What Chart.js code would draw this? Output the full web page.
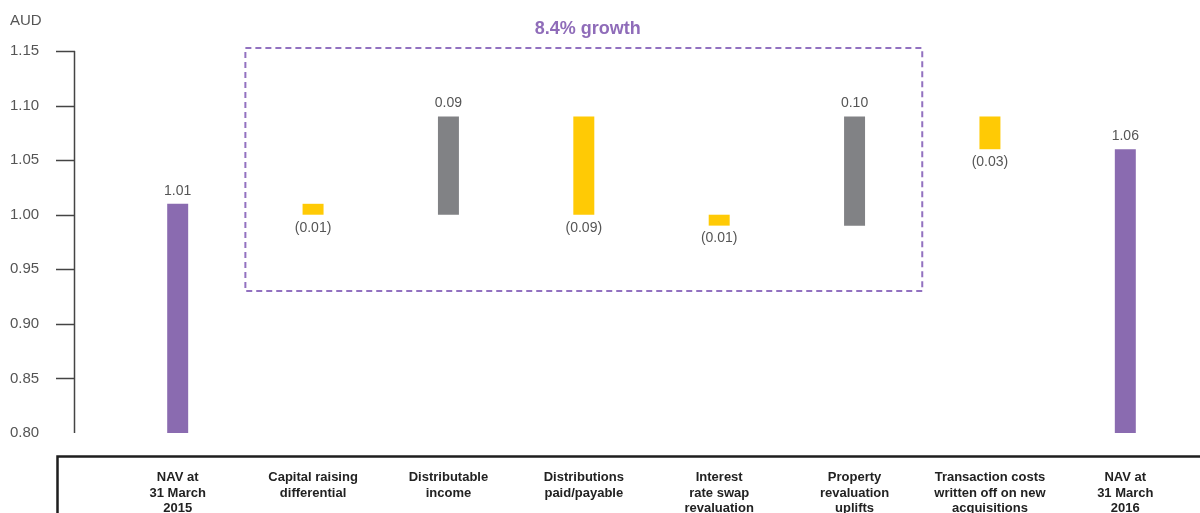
<!DOCTYPE html>
<html>
<head>
<meta charset="utf-8">
<script src="https://cdn.jsdelivr.net/npm/chart.js"></script>
<style>
  html, body { margin: 0; padding: 0; background: #fff; }
  #wrap { width: 1200px; height: 513px; position: relative; }
</style>
</head>
<body>
<div id="wrap"><canvas id="nav-chart"></canvas></div>
<script>
// categories and values
const categories = [
  ['NAV at', '31 March', '2015'],
  ['Capital raising', 'differential'],
  ['Distributable', 'income'],
  ['Distributions', 'paid/payable'],
  ['Interest', 'rate swap', 'revaluation'],
  ['Property', 'revaluation', 'uplifts'],
  ['Transaction costs', 'written off on new', 'acquisitions'],
  ['NAV at', '31 March', '2016']
];
const barStart = [0.80, 1.00, 1.00, 1.00, 0.99, 0.99, 1.06, 0.80];
const barEnd   = [1.01, 1.01, 1.09, 1.09, 1.00, 1.09, 1.09, 1.06];
const barKind  = ['total', 'decrease', 'increase', 'decrease', 'decrease', 'increase', 'decrease', 'total'];
const valueLabels = ['1.01', '(0.01)', '0.09', '(0.09)', '(0.01)', '0.10', '(0.03)', '1.06'];
const yTicks = [0.80, 0.85, 0.90, 0.95, 1.00, 1.05, 1.10, 1.15];
const unitLabel = 'AUD';
const growthLabel = '8.4% growth';

const colors = { total: '#8a6bb0', increase: '#818285', decrease: '#ffca05' };
const FONT = '"Liberation Sans", Arial, sans-serif';

// axis, label box, dashed growth box and value labels
const decorations = {
  id: 'decorations',
  afterDraw(chart) {
    const { ctx, chartArea, scales: { x, y } } = chart;
    ctx.save();

    // y axis line + ticks (drawn left of the bars)
    ctx.strokeStyle = '#444';
    ctx.lineWidth = 1.5;
    ctx.beginPath();
    ctx.moveTo(74.5, y.getPixelForValue(1.15));
    ctx.lineTo(74.5, y.getPixelForValue(0.80));
    yTicks.slice(1).forEach(t => {
      const py = Math.round(y.getPixelForValue(t)) + 0.5;
      ctx.moveTo(56, py);
      ctx.lineTo(75, py);
    });
    ctx.stroke();

    ctx.fillStyle = '#555';
    ctx.font = '15px ' + FONT;
    ctx.textAlign = 'left';
    ctx.textBaseline = 'middle';
    ctx.fillText(unitLabel, 10, 21);

    // frame round the category labels
    ctx.strokeStyle = '#1e1e1e';
    ctx.lineWidth = 2.5;
    ctx.beginPath();
    ctx.moveTo(57.5, 513);
    ctx.lineTo(57.5, 456.5);
    ctx.lineTo(1200, 456.5);
    ctx.stroke();

    // dashed growth box
    const bx0 = x.getPixelForValue(0.5), bx1 = x.getPixelForValue(5.5);
    const by0 = chartArea.top - 3, by1 = y.getPixelForValue(0.93);
    ctx.strokeStyle = '#9271c0';
    ctx.lineWidth = 2;
    ctx.setLineDash([6, 4]);
    ctx.strokeRect(bx0, by0, bx1 - bx0, by1 - by0);
    ctx.setLineDash([]);

    ctx.fillStyle = '#8f6cb9';
    ctx.font = 'bold 18px ' + FONT;
    ctx.textAlign = 'center';
    ctx.fillText(growthLabel, (bx0 + bx1) / 2 + 4, 29);

    // value labels
    ctx.fillStyle = '#555';
    ctx.font = '14px ' + FONT;
    const meta = chart.getDatasetMeta(0);
    meta.data.forEach((bar, i) => {
      const top = y.getPixelForValue(barEnd[i]);
      const bottom = y.getPixelForValue(barStart[i]);
      const ty = barKind[i] === 'decrease' ? bottom + 13 : top - 13;
      ctx.fillText(valueLabels[i], bar.x, ty);
    });

    ctx.restore();
  }
};

new Chart(document.getElementById('nav-chart'), {
  type: 'bar',
  data: {
    labels: categories,
    datasets: [{
      data: barStart.map((s, i) => [s, barEnd[i]]),
      backgroundColor: barKind.map(k => colors[k]),
      borderWidth: 0,
      barPercentage: 0.155,
      categoryPercentage: 1
    }]
  },
  plugins: [decorations],
  options: {
    responsive: true,
    maintainAspectRatio: false,
    animation: false,
    layout: { padding: { left: 10, top: 51, right: 7, bottom: 0 } },
    plugins: { legend: { display: false }, tooltip: { enabled: false } },
    scales: {
      x: {
        grid: { display: false, drawTicks: false },
        border: { display: false },
        ticks: {
          padding: 37,
          color: '#222',
          font: { family: FONT, size: 13, weight: 'bold', lineHeight: 1.18 },
          maxRotation: 0,
          autoSkip: false
        },
        afterFit: s => { s.height = 80; }
      },
      y: {
        min: 0.80,
        max: 1.15,
        grid: { display: false, drawTicks: false },
        border: { display: false },
        afterBuildTicks: s => { s.ticks = yTicks.map(v => ({ value: v })); },
        ticks: {
          crossAlign: 'far',
          color: '#555',
          font: { family: FONT, size: 15 },
          callback: v => v.toFixed(2)
        },
        afterFit: s => { s.width = 100; }
      }
    }
  }
});
</script>
</body>
</html>
